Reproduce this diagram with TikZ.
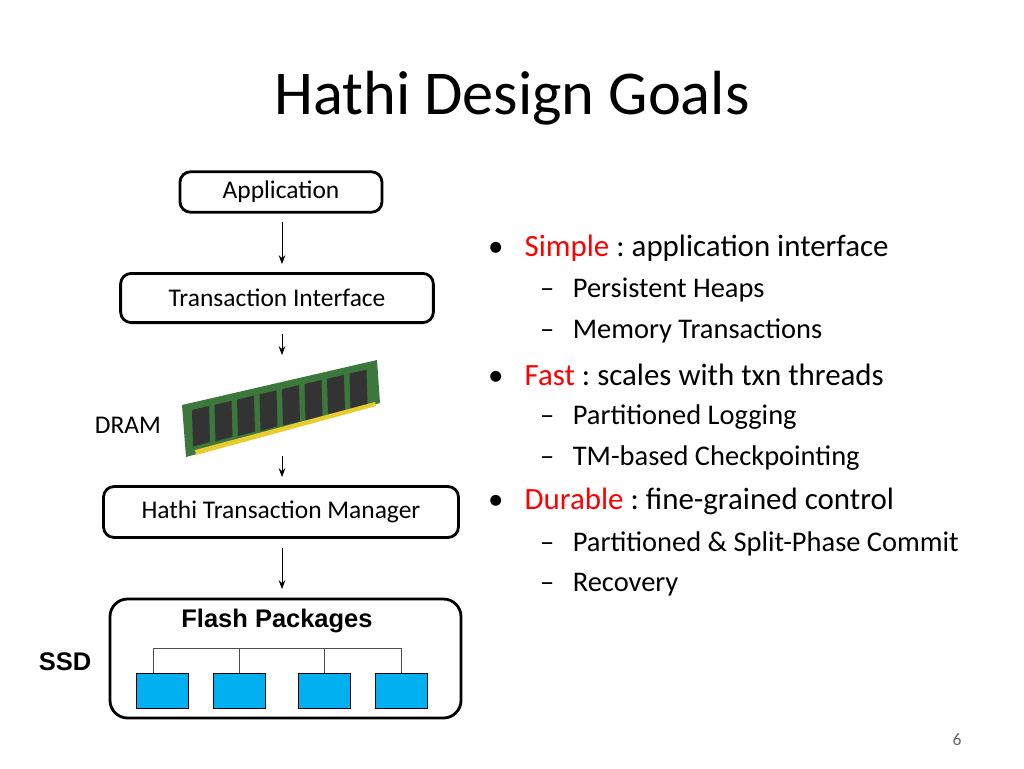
\documentclass[tikz,border=0pt]{standalone}
\usepackage{fontspec}
\setmainfont{Carlito}
\newfontfamily\arialb{Liberation Sans}
\usetikzlibrary{arrows.meta,calc}
\definecolor{flashblue}{RGB}{0,176,240}
\definecolor{ramgreen}{RGB}{60,120,60}
\frenchspacing
\tikzset{
  layerbox/.style={draw, line width=1.6pt, rounded corners=6pt, font=\fontsize{14.5}{16}\selectfont},
  flow/.style={-{Stealth[length=5pt]}, thin},
  pkg/.style={draw, fill=flashblue, minimum width=29.5pt, minimum height=20pt, anchor=north west},
  bul/.style={anchor=west, font=\fontsize{17.6}{20}\selectfont},
  subbul/.style={anchor=west, font=\fontsize{16.2}{18}\selectfont}
}
\begin{document}
\begin{tikzpicture}[x=0.02cm,y=-0.02cm]
\useasboundingbox (0,0) rectangle (1024,768);
\node[font=\fontsize{35.5}{40}\selectfont] (title) at (512,98) {Hathi Design Goals};

% stack of layers
\node[layerbox, minimum width=115pt, minimum height=23pt] (app) at (281,192) {Application};
\node[layerbox, minimum width=178pt, minimum height=28pt] (txi) at (277,298) {Transaction Interface};
\node[layerbox, minimum width=202pt, minimum height=29pt] (htm) at (281,512) {Hathi Transaction Manager};
\draw[line width=1.6pt, rounded corners=10pt] (110,599) rectangle (461,718);
\node[font=\arialb\bfseries\fontsize{14.5}{16}\selectfont] (flash) at (277,621) {Flash Packages};
\node[font=\arialb\bfseries\fontsize{14.5}{16}\selectfont] (ssd) at (65,662) {SSD};
\node[font=\fontsize{14.5}{16}\selectfont] (dram) at (128,425) {DRAM};

% memory module
\fill[ramgreen] (182,405) -- (377,360) -- (380,403) -- (186,457) -- cycle;
\foreach \i in {0,...,7}
  \fill[black!80] ($(192,410)+(\i*22.5,-\i*5.2)$) -- ++(17,-4) -- ++(1,36) -- ++(-17,4.5) -- cycle;
\fill[yellow!60!brown] (195,450) -- (375,402) -- (376,406) -- (196,455) -- cycle;

% arrows
\coordinate (a1) at (282,222); \coordinate (b1) at (282,264);
\coordinate (a2) at (282,334); \coordinate (b2) at (282,355);
\coordinate (a3) at (282,456); \coordinate (b3) at (282,477);
\coordinate (a4) at (282,548); \coordinate (b4) at (282,589);
\foreach \k in {1,...,4} \draw[flow] (a\k) -- (b\k);

% flash packages
\node[pkg] (p1) at (136,673) {};
\node[pkg] (p2) at (213,673) {};
\node[pkg] (p3) at (298,673) {};
\node[pkg] (p4) at (375,673) {};
\draw[black!70] (153,673) -- (153,648) -- (401,648) -- (401,673);
\draw[black!70] (239,648) -- (239,673) (324,648) -- (324,673);

% bullets
\foreach \y/\hd/\tx in {248/Simple/application interface, 375/Fast/scales with txn threads, 501/Durable/fine-grained control}
  \node[bul] at (482,\y) {\textbullet\hspace{12pt}\textcolor{red}{\hd} : \tx};
\foreach \y/\tx in {290/Persistent Heaps, 331/Memory Transactions, 417/Partitioned Logging, 458/TM-based Checkpointing, 544/Partitioned \& Split-Phase Commit, 585/Recovery}
  \node[subbul] at (534,\y) {--\hspace{10.5pt}\tx};

\node[text=black!60, font=\fontsize{10}{12}\selectfont] (pg) at (957,740) {6};
\end{tikzpicture}
\end{document}
